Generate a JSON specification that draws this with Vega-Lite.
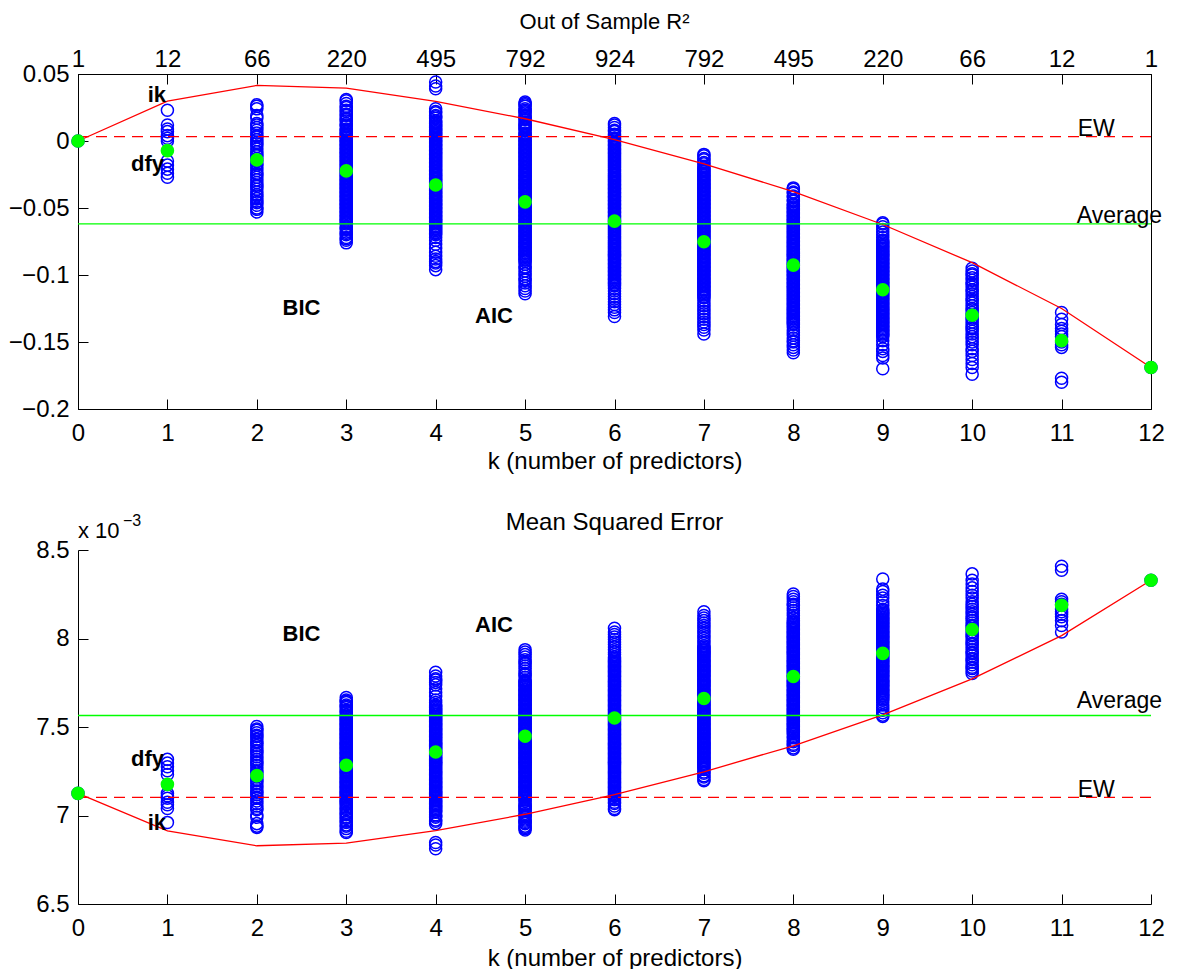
{
"$schema":"https://vega.github.io/schema/vega-lite/v6.json",
"background":"white",
"padding":{"left":7,"top":10,"right":0,"bottom":0},
"spacing":36,
"config":{
 "font":"Liberation Sans",
 "view":{"stroke":null},
 "axis":{"grid":false,"labelFont":"Liberation Sans","labelFontSize":24,"labelColor":"#000","titleFont":"Liberation Sans","titleFontSize":24,"titleFontWeight":"normal","titleColor":"#000","domainColor":"#000","domainWidth":1,"tickColor":"#000","tickWidth":1,"tickSize":-10,"labelFlush":false,"labelOverlap":false},
 "title":{"font":"Liberation Sans","fontWeight":"normal","color":"#000","anchor":"middle","baseline":"alphabetic","frame":"group"}
},
"datasets":{
"models":[
{"k":0,"r":0,"m":7.125},
{"k":1,"r":0.023,"m":6.961},{"k":1,"r":0.012,"m":7.040},{"k":1,"r":0.009,"m":7.061},{"k":1,"r":0.007,"m":7.075},{"k":1,"r":0.004,"m":7.097},{"k":1,"r":0.002,"m":7.111},{"k":1,"r":0,"m":7.125},{"k":1,"r":-0.015,"m":7.232},{"k":1,"r":-0.018,"m":7.253},{"k":1,"r":-0.021,"m":7.275},{"k":1,"r":-0.024,"m":7.296},{"k":1,"r":-0.027,"m":7.317},
{"k":2,"r":0.027,"m":6.933},{"k":2,"r":0.026,"m":6.940},{"k":2,"r":0.024,"m":6.954},{"k":2,"r":0.019,"m":6.990},{"k":2,"r":0.017,"m":7.004},{"k":2,"r":0.013,"m":7.032},{"k":2,"r":0.012,"m":7.040},{"k":2,"r":0.010,"m":7.054},{"k":2,"r":0.008,"m":7.068},{"k":2,"r":0.006,"m":7.082},{"k":2,"r":0.004,"m":7.097},{"k":2,"r":0.003,"m":7.104},{"k":2,"r":0.001,"m":7.118},{"k":2,"r":-0.001,"m":7.132},{"k":2,"r":-0.002,"m":7.139},{"k":2,"r":-0.004,"m":7.154},{"k":2,"r":-0.006,"m":7.168},{"k":2,"r":-0.008,"m":7.182},{"k":2,"r":-0.010,"m":7.196},{"k":2,"r":-0.011,"m":7.203},{"k":2,"r":-0.013,"m":7.218},{"k":2,"r":-0.015,"m":7.232},{"k":2,"r":-0.017,"m":7.246},{"k":2,"r":-0.018,"m":7.253},{"k":2,"r":-0.020,"m":7.268},{"k":2,"r":-0.022,"m":7.282},{"k":2,"r":-0.024,"m":7.296},{"k":2,"r":-0.025,"m":7.303},{"k":2,"r":-0.027,"m":7.317},{"k":2,"r":-0.029,"m":7.332},{"k":2,"r":-0.031,"m":7.346},{"k":2,"r":-0.033,"m":7.360},{"k":2,"r":-0.034,"m":7.367},{"k":2,"r":-0.036,"m":7.382},{"k":2,"r":-0.038,"m":7.396},{"k":2,"r":-0.040,"m":7.410},{"k":2,"r":-0.041,"m":7.417},{"k":2,"r":-0.043,"m":7.431},{"k":2,"r":-0.045,"m":7.446},{"k":2,"r":-0.046,"m":7.453},{"k":2,"r":-0.048,"m":7.467},{"k":2,"r":-0.050,"m":7.481},{"k":2,"r":-0.051,"m":7.488},{"k":2,"r":-0.053,"m":7.503},
{"k":3,"r":0.031,"m":6.904},{"k":3,"r":0.030,"m":6.911},{"k":3,"r":0.028,"m":6.926},{"k":3,"r":0.026,"m":6.940},{"k":3,"r":0.025,"m":6.947},{"k":3,"r":0.023,"m":6.961},{"k":3,"r":0.022,"m":6.968},{"k":3,"r":0.020,"m":6.983},{"k":3,"r":0.019,"m":6.990},{"k":3,"r":0.017,"m":7.004},{"k":3,"r":0.016,"m":7.011},{"k":3,"r":0.015,"m":7.018},{"k":3,"r":0.013,"m":7.032},{"k":3,"r":0.012,"m":7.040},{"k":3,"r":0.011,"m":7.047},{"k":3,"r":0.009,"m":7.061},{"k":3,"r":0.008,"m":7.068},
{"k":3,"r":0.007,"m":7.075},{"k":3,"r":0.006,"m":7.082},{"k":3,"r":0.005,"m":7.089},{"k":3,"r":0.004,"m":7.097},{"k":3,"r":0.003,"m":7.104},{"k":3,"r":0.002,"m":7.111},{"k":3,"r":0.001,"m":7.118},{"k":3,"r":0,"m":7.125},
{"k":3,"r":-0.001,"m":7.132},{"k":3,"r":-0.002,"m":7.139},{"k":3,"r":-0.003,"m":7.146},{"k":3,"r":-0.004,"m":7.154},{"k":3,"r":-0.005,"m":7.161},{"k":3,"r":-0.006,"m":7.168},{"k":3,"r":-0.007,"m":7.175},{"k":3,"r":-0.008,"m":7.182},{"k":3,"r":-0.009,"m":7.189},{"k":3,"r":-0.010,"m":7.196},
{"k":3,"r":-0.011,"m":7.203},{"k":3,"r":-0.012,"m":7.211},{"k":3,"r":-0.013,"m":7.218},{"k":3,"r":-0.014,"m":7.225},{"k":3,"r":-0.015,"m":7.232},{"k":3,"r":-0.016,"m":7.239},{"k":3,"r":-0.017,"m":7.246},{"k":3,"r":-0.018,"m":7.253},{"k":3,"r":-0.019,"m":7.260},{"k":3,"r":-0.020,"m":7.268},
{"k":3,"r":-0.021,"m":7.275},{"k":3,"r":-0.022,"m":7.282},{"k":3,"r":-0.023,"m":7.289},{"k":3,"r":-0.024,"m":7.296},{"k":3,"r":-0.025,"m":7.303},{"k":3,"r":-0.026,"m":7.310},{"k":3,"r":-0.027,"m":7.317},{"k":3,"r":-0.028,"m":7.325},{"k":3,"r":-0.029,"m":7.332},{"k":3,"r":-0.030,"m":7.339},
{"k":3,"r":-0.031,"m":7.346},{"k":3,"r":-0.032,"m":7.353},{"k":3,"r":-0.033,"m":7.360},{"k":3,"r":-0.034,"m":7.367},{"k":3,"r":-0.035,"m":7.374},{"k":3,"r":-0.036,"m":7.382},{"k":3,"r":-0.037,"m":7.389},{"k":3,"r":-0.038,"m":7.396},{"k":3,"r":-0.039,"m":7.403},{"k":3,"r":-0.040,"m":7.410},
{"k":3,"r":-0.041,"m":7.417},{"k":3,"r":-0.042,"m":7.424},{"k":3,"r":-0.043,"m":7.431},{"k":3,"r":-0.044,"m":7.439},{"k":3,"r":-0.045,"m":7.446},{"k":3,"r":-0.046,"m":7.453},{"k":3,"r":-0.047,"m":7.460},{"k":3,"r":-0.048,"m":7.467},{"k":3,"r":-0.049,"m":7.474},{"k":3,"r":-0.050,"m":7.481},
{"k":3,"r":-0.051,"m":7.488},{"k":3,"r":-0.052,"m":7.496},{"k":3,"r":-0.053,"m":7.503},{"k":3,"r":-0.054,"m":7.510},{"k":3,"r":-0.055,"m":7.517},{"k":3,"r":-0.056,"m":7.524},{"k":3,"r":-0.057,"m":7.531},{"k":3,"r":-0.058,"m":7.538},{"k":3,"r":-0.059,"m":7.545},{"k":3,"r":-0.060,"m":7.553},
{"k":3,"r":-0.061,"m":7.560},{"k":3,"r":-0.062,"m":7.567},{"k":3,"r":-0.064,"m":7.581},{"k":3,"r":-0.065,"m":7.588},{"k":3,"r":-0.066,"m":7.595},{"k":3,"r":-0.068,"m":7.610},{"k":3,"r":-0.069,"m":7.617},{"k":3,"r":-0.070,"m":7.624},{"k":3,"r":-0.072,"m":7.638},{"k":3,"r":-0.073,"m":7.645},{"k":3,"r":-0.074,"m":7.652},{"k":3,"r":-0.076,"m":7.667},
{"k":4,"r":0.044,"m":6.812},{"k":4,"r":0.041,"m":6.833},{"k":4,"r":0.039,"m":6.847},
{"k":4,"r":0.024,"m":6.954},{"k":4,"r":0.022,"m":6.968},{"k":4,"r":0.021,"m":6.975},{"k":4,"r":0.019,"m":6.990},{"k":4,"r":0.018,"m":6.997},{"k":4,"r":0.017,"m":7.004},{"k":4,"r":0.015,"m":7.018},{"k":4,"r":0.014,"m":7.025},{"k":4,"r":0.013,"m":7.032},{"k":4,"r":0.012,"m":7.040},
{"k":4,"r":0.011,"m":7.047},{"k":4,"r":0.010,"m":7.054},{"k":4,"r":0.009,"m":7.061},{"k":4,"r":0.008,"m":7.068},{"k":4,"r":0.007,"m":7.075},{"k":4,"r":0.006,"m":7.082},{"k":4,"r":0.005,"m":7.089},{"k":4,"r":0.004,"m":7.097},{"k":4,"r":0.003,"m":7.104},{"k":4,"r":0.002,"m":7.111},{"k":4,"r":0.001,"m":7.118},{"k":4,"r":0,"m":7.125},
{"k":4,"r":-0.001,"m":7.132},{"k":4,"r":-0.002,"m":7.139},{"k":4,"r":-0.003,"m":7.146},{"k":4,"r":-0.004,"m":7.154},{"k":4,"r":-0.005,"m":7.161},{"k":4,"r":-0.006,"m":7.168},{"k":4,"r":-0.007,"m":7.175},{"k":4,"r":-0.008,"m":7.182},{"k":4,"r":-0.009,"m":7.189},{"k":4,"r":-0.010,"m":7.196},
{"k":4,"r":-0.011,"m":7.203},{"k":4,"r":-0.012,"m":7.211},{"k":4,"r":-0.013,"m":7.218},{"k":4,"r":-0.014,"m":7.225},{"k":4,"r":-0.015,"m":7.232},{"k":4,"r":-0.016,"m":7.239},{"k":4,"r":-0.017,"m":7.246},{"k":4,"r":-0.018,"m":7.253},{"k":4,"r":-0.019,"m":7.260},{"k":4,"r":-0.020,"m":7.268},
{"k":4,"r":-0.021,"m":7.275},{"k":4,"r":-0.022,"m":7.282},{"k":4,"r":-0.023,"m":7.289},{"k":4,"r":-0.024,"m":7.296},{"k":4,"r":-0.025,"m":7.303},{"k":4,"r":-0.026,"m":7.310},{"k":4,"r":-0.027,"m":7.317},{"k":4,"r":-0.028,"m":7.325},{"k":4,"r":-0.029,"m":7.332},{"k":4,"r":-0.030,"m":7.339},
{"k":4,"r":-0.031,"m":7.346},{"k":4,"r":-0.032,"m":7.353},{"k":4,"r":-0.033,"m":7.360},{"k":4,"r":-0.034,"m":7.367},{"k":4,"r":-0.035,"m":7.374},{"k":4,"r":-0.036,"m":7.382},{"k":4,"r":-0.037,"m":7.389},{"k":4,"r":-0.038,"m":7.396},{"k":4,"r":-0.039,"m":7.403},{"k":4,"r":-0.040,"m":7.410},
{"k":4,"r":-0.041,"m":7.417},{"k":4,"r":-0.042,"m":7.424},{"k":4,"r":-0.043,"m":7.431},{"k":4,"r":-0.044,"m":7.439},{"k":4,"r":-0.045,"m":7.446},{"k":4,"r":-0.046,"m":7.453},{"k":4,"r":-0.047,"m":7.460},{"k":4,"r":-0.048,"m":7.467},{"k":4,"r":-0.049,"m":7.474},{"k":4,"r":-0.050,"m":7.481},
{"k":4,"r":-0.051,"m":7.488},{"k":4,"r":-0.052,"m":7.496},{"k":4,"r":-0.053,"m":7.503},{"k":4,"r":-0.054,"m":7.510},{"k":4,"r":-0.055,"m":7.517},{"k":4,"r":-0.056,"m":7.524},{"k":4,"r":-0.057,"m":7.531},{"k":4,"r":-0.058,"m":7.538},{"k":4,"r":-0.059,"m":7.545},{"k":4,"r":-0.060,"m":7.553},
{"k":4,"r":-0.061,"m":7.560},{"k":4,"r":-0.062,"m":7.567},{"k":4,"r":-0.063,"m":7.574},{"k":4,"r":-0.064,"m":7.581},{"k":4,"r":-0.065,"m":7.588},{"k":4,"r":-0.066,"m":7.595},{"k":4,"r":-0.067,"m":7.602},{"k":4,"r":-0.068,"m":7.610},{"k":4,"r":-0.069,"m":7.617},{"k":4,"r":-0.070,"m":7.624},
{"k":4,"r":-0.072,"m":7.638},{"k":4,"r":-0.074,"m":7.652},{"k":4,"r":-0.077,"m":7.674},{"k":4,"r":-0.080,"m":7.695},{"k":4,"r":-0.083,"m":7.716},{"k":4,"r":-0.086,"m":7.738},{"k":4,"r":-0.088,"m":7.752},{"k":4,"r":-0.090,"m":7.766},{"k":4,"r":-0.091,"m":7.773},{"k":4,"r":-0.093,"m":7.788},{"k":4,"r":-0.096,"m":7.809},
{"k":5,"r":0.029,"m":6.918},{"k":5,"r":0.028,"m":6.926},{"k":5,"r":0.027,"m":6.933},{"k":5,"r":0.026,"m":6.940},{"k":5,"r":0.024,"m":6.954},{"k":5,"r":0.023,"m":6.961},{"k":5,"r":0.022,"m":6.968},{"k":5,"r":0.021,"m":6.975},{"k":5,"r":0.019,"m":6.990},{"k":5,"r":0.018,"m":6.997},{"k":5,"r":0.017,"m":7.004},{"k":5,"r":0.016,"m":7.011},{"k":5,"r":0.014,"m":7.025},{"k":5,"r":0.013,"m":7.032},{"k":5,"r":0.012,"m":7.040},{"k":5,"r":0.011,"m":7.047},{"k":5,"r":0.010,"m":7.054},{"k":5,"r":0.009,"m":7.061},{"k":5,"r":0.008,"m":7.068},{"k":5,"r":0.006,"m":7.082},{"k":5,"r":0.005,"m":7.089},{"k":5,"r":0.004,"m":7.097},{"k":5,"r":0.003,"m":7.104},{"k":5,"r":0.002,"m":7.111},
{"k":5,"r":0.001,"m":7.118},{"k":5,"r":0,"m":7.125},
{"k":5,"r":-0.001,"m":7.132},{"k":5,"r":-0.002,"m":7.139},{"k":5,"r":-0.003,"m":7.146},{"k":5,"r":-0.004,"m":7.154},{"k":5,"r":-0.005,"m":7.161},{"k":5,"r":-0.006,"m":7.168},{"k":5,"r":-0.007,"m":7.175},{"k":5,"r":-0.008,"m":7.182},{"k":5,"r":-0.009,"m":7.189},{"k":5,"r":-0.010,"m":7.196},
{"k":5,"r":-0.011,"m":7.203},{"k":5,"r":-0.012,"m":7.211},{"k":5,"r":-0.013,"m":7.218},{"k":5,"r":-0.014,"m":7.225},{"k":5,"r":-0.015,"m":7.232},{"k":5,"r":-0.016,"m":7.239},{"k":5,"r":-0.017,"m":7.246},{"k":5,"r":-0.018,"m":7.253},{"k":5,"r":-0.019,"m":7.260},{"k":5,"r":-0.020,"m":7.268},
{"k":5,"r":-0.021,"m":7.275},{"k":5,"r":-0.022,"m":7.282},{"k":5,"r":-0.023,"m":7.289},{"k":5,"r":-0.024,"m":7.296},{"k":5,"r":-0.025,"m":7.303},{"k":5,"r":-0.026,"m":7.310},{"k":5,"r":-0.027,"m":7.317},{"k":5,"r":-0.028,"m":7.325},{"k":5,"r":-0.029,"m":7.332},{"k":5,"r":-0.030,"m":7.339},
{"k":5,"r":-0.031,"m":7.346},{"k":5,"r":-0.032,"m":7.353},{"k":5,"r":-0.033,"m":7.360},{"k":5,"r":-0.034,"m":7.367},{"k":5,"r":-0.035,"m":7.374},{"k":5,"r":-0.036,"m":7.382},{"k":5,"r":-0.037,"m":7.389},{"k":5,"r":-0.038,"m":7.396},{"k":5,"r":-0.039,"m":7.403},{"k":5,"r":-0.040,"m":7.410},
{"k":5,"r":-0.041,"m":7.417},{"k":5,"r":-0.042,"m":7.424},{"k":5,"r":-0.043,"m":7.431},{"k":5,"r":-0.044,"m":7.439},{"k":5,"r":-0.045,"m":7.446},{"k":5,"r":-0.046,"m":7.453},{"k":5,"r":-0.047,"m":7.460},{"k":5,"r":-0.048,"m":7.467},{"k":5,"r":-0.049,"m":7.474},{"k":5,"r":-0.050,"m":7.481},
{"k":5,"r":-0.051,"m":7.488},{"k":5,"r":-0.052,"m":7.496},{"k":5,"r":-0.053,"m":7.503},{"k":5,"r":-0.054,"m":7.510},{"k":5,"r":-0.055,"m":7.517},{"k":5,"r":-0.056,"m":7.524},{"k":5,"r":-0.057,"m":7.531},{"k":5,"r":-0.058,"m":7.538},{"k":5,"r":-0.059,"m":7.545},{"k":5,"r":-0.060,"m":7.553},
{"k":5,"r":-0.061,"m":7.560},{"k":5,"r":-0.062,"m":7.567},{"k":5,"r":-0.063,"m":7.574},{"k":5,"r":-0.064,"m":7.581},{"k":5,"r":-0.065,"m":7.588},{"k":5,"r":-0.066,"m":7.595},{"k":5,"r":-0.067,"m":7.602},{"k":5,"r":-0.068,"m":7.610},{"k":5,"r":-0.069,"m":7.617},{"k":5,"r":-0.070,"m":7.624},
{"k":5,"r":-0.071,"m":7.631},{"k":5,"r":-0.072,"m":7.638},{"k":5,"r":-0.073,"m":7.645},{"k":5,"r":-0.074,"m":7.652},{"k":5,"r":-0.075,"m":7.659},{"k":5,"r":-0.076,"m":7.667},{"k":5,"r":-0.077,"m":7.674},{"k":5,"r":-0.078,"m":7.681},{"k":5,"r":-0.079,"m":7.688},{"k":5,"r":-0.080,"m":7.695},
{"k":5,"r":-0.081,"m":7.702},{"k":5,"r":-0.082,"m":7.709},{"k":5,"r":-0.083,"m":7.716},{"k":5,"r":-0.084,"m":7.724},{"k":5,"r":-0.085,"m":7.731},{"k":5,"r":-0.086,"m":7.738},{"k":5,"r":-0.087,"m":7.745},{"k":5,"r":-0.088,"m":7.752},{"k":5,"r":-0.089,"m":7.759},{"k":5,"r":-0.090,"m":7.766},
{"k":5,"r":-0.092,"m":7.781},{"k":5,"r":-0.094,"m":7.795},{"k":5,"r":-0.095,"m":7.802},{"k":5,"r":-0.097,"m":7.816},{"k":5,"r":-0.099,"m":7.830},{"k":5,"r":-0.101,"m":7.845},{"k":5,"r":-0.103,"m":7.859},{"k":5,"r":-0.104,"m":7.866},{"k":5,"r":-0.106,"m":7.880},{"k":5,"r":-0.108,"m":7.895},{"k":5,"r":-0.110,"m":7.909},{"k":5,"r":-0.112,"m":7.923},{"k":5,"r":-0.114,"m":7.937},
{"k":6,"r":0.013,"m":7.032},{"k":6,"r":0.012,"m":7.040},{"k":6,"r":0.010,"m":7.054},{"k":6,"r":0.008,"m":7.068},{"k":6,"r":0.007,"m":7.075},{"k":6,"r":0.005,"m":7.089},{"k":6,"r":0.004,"m":7.097},{"k":6,"r":0.002,"m":7.111},{"k":6,"r":0.001,"m":7.118},{"k":6,"r":0,"m":7.125},{"k":6,"r":-0.001,"m":7.132},{"k":6,"r":-0.002,"m":7.139},
{"k":6,"r":-0.003,"m":7.146},{"k":6,"r":-0.004,"m":7.154},{"k":6,"r":-0.005,"m":7.161},{"k":6,"r":-0.006,"m":7.168},{"k":6,"r":-0.007,"m":7.175},{"k":6,"r":-0.008,"m":7.182},{"k":6,"r":-0.009,"m":7.189},{"k":6,"r":-0.010,"m":7.196},
{"k":6,"r":-0.011,"m":7.203},{"k":6,"r":-0.012,"m":7.211},{"k":6,"r":-0.013,"m":7.218},{"k":6,"r":-0.014,"m":7.225},{"k":6,"r":-0.015,"m":7.232},{"k":6,"r":-0.016,"m":7.239},{"k":6,"r":-0.017,"m":7.246},{"k":6,"r":-0.018,"m":7.253},{"k":6,"r":-0.019,"m":7.260},{"k":6,"r":-0.020,"m":7.268},
{"k":6,"r":-0.021,"m":7.275},{"k":6,"r":-0.022,"m":7.282},{"k":6,"r":-0.023,"m":7.289},{"k":6,"r":-0.024,"m":7.296},{"k":6,"r":-0.025,"m":7.303},{"k":6,"r":-0.026,"m":7.310},{"k":6,"r":-0.027,"m":7.317},{"k":6,"r":-0.028,"m":7.325},{"k":6,"r":-0.029,"m":7.332},{"k":6,"r":-0.030,"m":7.339},
{"k":6,"r":-0.031,"m":7.346},{"k":6,"r":-0.032,"m":7.353},{"k":6,"r":-0.033,"m":7.360},{"k":6,"r":-0.034,"m":7.367},{"k":6,"r":-0.035,"m":7.374},{"k":6,"r":-0.036,"m":7.382},{"k":6,"r":-0.037,"m":7.389},{"k":6,"r":-0.038,"m":7.396},{"k":6,"r":-0.039,"m":7.403},{"k":6,"r":-0.040,"m":7.410},
{"k":6,"r":-0.041,"m":7.417},{"k":6,"r":-0.042,"m":7.424},{"k":6,"r":-0.043,"m":7.431},{"k":6,"r":-0.044,"m":7.439},{"k":6,"r":-0.045,"m":7.446},{"k":6,"r":-0.046,"m":7.453},{"k":6,"r":-0.047,"m":7.460},{"k":6,"r":-0.048,"m":7.467},{"k":6,"r":-0.049,"m":7.474},{"k":6,"r":-0.050,"m":7.481},
{"k":6,"r":-0.051,"m":7.488},{"k":6,"r":-0.052,"m":7.496},{"k":6,"r":-0.053,"m":7.503},{"k":6,"r":-0.054,"m":7.510},{"k":6,"r":-0.055,"m":7.517},{"k":6,"r":-0.056,"m":7.524},{"k":6,"r":-0.057,"m":7.531},{"k":6,"r":-0.058,"m":7.538},{"k":6,"r":-0.059,"m":7.545},{"k":6,"r":-0.060,"m":7.553},
{"k":6,"r":-0.061,"m":7.560},{"k":6,"r":-0.062,"m":7.567},{"k":6,"r":-0.063,"m":7.574},{"k":6,"r":-0.064,"m":7.581},{"k":6,"r":-0.065,"m":7.588},{"k":6,"r":-0.066,"m":7.595},{"k":6,"r":-0.067,"m":7.602},{"k":6,"r":-0.068,"m":7.610},{"k":6,"r":-0.069,"m":7.617},{"k":6,"r":-0.070,"m":7.624},
{"k":6,"r":-0.071,"m":7.631},{"k":6,"r":-0.072,"m":7.638},{"k":6,"r":-0.073,"m":7.645},{"k":6,"r":-0.074,"m":7.652},{"k":6,"r":-0.075,"m":7.659},{"k":6,"r":-0.076,"m":7.667},{"k":6,"r":-0.077,"m":7.674},{"k":6,"r":-0.078,"m":7.681},{"k":6,"r":-0.079,"m":7.688},{"k":6,"r":-0.080,"m":7.695},
{"k":6,"r":-0.081,"m":7.702},{"k":6,"r":-0.082,"m":7.709},{"k":6,"r":-0.083,"m":7.716},{"k":6,"r":-0.084,"m":7.724},{"k":6,"r":-0.085,"m":7.731},{"k":6,"r":-0.086,"m":7.738},{"k":6,"r":-0.087,"m":7.745},{"k":6,"r":-0.088,"m":7.752},{"k":6,"r":-0.089,"m":7.759},{"k":6,"r":-0.090,"m":7.766},
{"k":6,"r":-0.091,"m":7.773},{"k":6,"r":-0.092,"m":7.781},{"k":6,"r":-0.093,"m":7.788},{"k":6,"r":-0.094,"m":7.795},{"k":6,"r":-0.095,"m":7.802},{"k":6,"r":-0.096,"m":7.809},{"k":6,"r":-0.097,"m":7.816},{"k":6,"r":-0.098,"m":7.823},{"k":6,"r":-0.099,"m":7.830},{"k":6,"r":-0.100,"m":7.838},
{"k":6,"r":-0.101,"m":7.845},{"k":6,"r":-0.102,"m":7.852},{"k":6,"r":-0.103,"m":7.859},{"k":6,"r":-0.104,"m":7.866},{"k":6,"r":-0.105,"m":7.873},{"k":6,"r":-0.106,"m":7.880},{"k":6,"r":-0.107,"m":7.887},
{"k":6,"r":-0.108,"m":7.895},{"k":6,"r":-0.110,"m":7.909},{"k":6,"r":-0.112,"m":7.923},{"k":6,"r":-0.114,"m":7.937},{"k":6,"r":-0.116,"m":7.952},{"k":6,"r":-0.118,"m":7.966},{"k":6,"r":-0.120,"m":7.980},{"k":6,"r":-0.122,"m":7.994},{"k":6,"r":-0.124,"m":8.009},{"k":6,"r":-0.126,"m":8.023},{"k":6,"r":-0.128,"m":8.037},{"k":6,"r":-0.131,"m":8.058},
{"k":7,"r":-0.010,"m":7.196},{"k":7,"r":-0.011,"m":7.203},{"k":7,"r":-0.013,"m":7.218},{"k":7,"r":-0.014,"m":7.225},{"k":7,"r":-0.016,"m":7.239},{"k":7,"r":-0.017,"m":7.246},{"k":7,"r":-0.019,"m":7.260},{"k":7,"r":-0.020,"m":7.268},{"k":7,"r":-0.021,"m":7.275},
{"k":7,"r":-0.022,"m":7.282},{"k":7,"r":-0.023,"m":7.289},{"k":7,"r":-0.024,"m":7.296},{"k":7,"r":-0.025,"m":7.303},{"k":7,"r":-0.026,"m":7.310},{"k":7,"r":-0.027,"m":7.317},{"k":7,"r":-0.028,"m":7.325},{"k":7,"r":-0.029,"m":7.332},{"k":7,"r":-0.030,"m":7.339},
{"k":7,"r":-0.031,"m":7.346},{"k":7,"r":-0.032,"m":7.353},{"k":7,"r":-0.033,"m":7.360},{"k":7,"r":-0.034,"m":7.367},{"k":7,"r":-0.035,"m":7.374},{"k":7,"r":-0.036,"m":7.382},{"k":7,"r":-0.037,"m":7.389},{"k":7,"r":-0.038,"m":7.396},{"k":7,"r":-0.039,"m":7.403},{"k":7,"r":-0.040,"m":7.410},
{"k":7,"r":-0.041,"m":7.417},{"k":7,"r":-0.042,"m":7.424},{"k":7,"r":-0.043,"m":7.431},{"k":7,"r":-0.044,"m":7.439},{"k":7,"r":-0.045,"m":7.446},{"k":7,"r":-0.046,"m":7.453},{"k":7,"r":-0.047,"m":7.460},{"k":7,"r":-0.048,"m":7.467},{"k":7,"r":-0.049,"m":7.474},{"k":7,"r":-0.050,"m":7.481},
{"k":7,"r":-0.051,"m":7.488},{"k":7,"r":-0.052,"m":7.496},{"k":7,"r":-0.053,"m":7.503},{"k":7,"r":-0.054,"m":7.510},{"k":7,"r":-0.055,"m":7.517},{"k":7,"r":-0.056,"m":7.524},{"k":7,"r":-0.057,"m":7.531},{"k":7,"r":-0.058,"m":7.538},{"k":7,"r":-0.059,"m":7.545},{"k":7,"r":-0.060,"m":7.553},
{"k":7,"r":-0.061,"m":7.560},{"k":7,"r":-0.062,"m":7.567},{"k":7,"r":-0.063,"m":7.574},{"k":7,"r":-0.064,"m":7.581},{"k":7,"r":-0.065,"m":7.588},{"k":7,"r":-0.066,"m":7.595},{"k":7,"r":-0.067,"m":7.602},{"k":7,"r":-0.068,"m":7.610},{"k":7,"r":-0.069,"m":7.617},{"k":7,"r":-0.070,"m":7.624},
{"k":7,"r":-0.071,"m":7.631},{"k":7,"r":-0.072,"m":7.638},{"k":7,"r":-0.073,"m":7.645},{"k":7,"r":-0.074,"m":7.652},{"k":7,"r":-0.075,"m":7.659},{"k":7,"r":-0.076,"m":7.667},{"k":7,"r":-0.077,"m":7.674},{"k":7,"r":-0.078,"m":7.681},{"k":7,"r":-0.079,"m":7.688},{"k":7,"r":-0.080,"m":7.695},
{"k":7,"r":-0.081,"m":7.702},{"k":7,"r":-0.082,"m":7.709},{"k":7,"r":-0.083,"m":7.716},{"k":7,"r":-0.084,"m":7.724},{"k":7,"r":-0.085,"m":7.731},{"k":7,"r":-0.086,"m":7.738},{"k":7,"r":-0.087,"m":7.745},{"k":7,"r":-0.088,"m":7.752},{"k":7,"r":-0.089,"m":7.759},{"k":7,"r":-0.090,"m":7.766},
{"k":7,"r":-0.091,"m":7.773},{"k":7,"r":-0.092,"m":7.781},{"k":7,"r":-0.093,"m":7.788},{"k":7,"r":-0.094,"m":7.795},{"k":7,"r":-0.095,"m":7.802},{"k":7,"r":-0.096,"m":7.809},{"k":7,"r":-0.097,"m":7.816},{"k":7,"r":-0.098,"m":7.823},{"k":7,"r":-0.099,"m":7.830},{"k":7,"r":-0.100,"m":7.838},
{"k":7,"r":-0.101,"m":7.845},{"k":7,"r":-0.102,"m":7.852},{"k":7,"r":-0.103,"m":7.859},{"k":7,"r":-0.104,"m":7.866},{"k":7,"r":-0.105,"m":7.873},{"k":7,"r":-0.106,"m":7.880},{"k":7,"r":-0.107,"m":7.887},{"k":7,"r":-0.108,"m":7.895},{"k":7,"r":-0.109,"m":7.902},{"k":7,"r":-0.110,"m":7.909},
{"k":7,"r":-0.111,"m":7.916},{"k":7,"r":-0.112,"m":7.923},{"k":7,"r":-0.113,"m":7.930},{"k":7,"r":-0.114,"m":7.937},{"k":7,"r":-0.115,"m":7.944},{"k":7,"r":-0.116,"m":7.952},{"k":7,"r":-0.117,"m":7.959},
{"k":7,"r":-0.119,"m":7.973},{"k":7,"r":-0.121,"m":7.987},{"k":7,"r":-0.123,"m":8.001},{"k":7,"r":-0.125,"m":8.016},{"k":7,"r":-0.127,"m":8.030},{"k":7,"r":-0.129,"m":8.044},{"k":7,"r":-0.131,"m":8.058},{"k":7,"r":-0.133,"m":8.073},{"k":7,"r":-0.135,"m":8.087},{"k":7,"r":-0.137,"m":8.101},{"k":7,"r":-0.139,"m":8.115},{"k":7,"r":-0.141,"m":8.130},{"k":7,"r":-0.144,"m":8.151},
{"k":8,"r":-0.035,"m":7.374},{"k":8,"r":-0.036,"m":7.382},{"k":8,"r":-0.038,"m":7.396},{"k":8,"r":-0.039,"m":7.403},{"k":8,"r":-0.041,"m":7.417},{"k":8,"r":-0.042,"m":7.424},{"k":8,"r":-0.044,"m":7.439},{"k":8,"r":-0.045,"m":7.446},{"k":8,"r":-0.047,"m":7.460},
{"k":8,"r":-0.048,"m":7.467},{"k":8,"r":-0.049,"m":7.474},{"k":8,"r":-0.050,"m":7.481},
{"k":8,"r":-0.051,"m":7.488},{"k":8,"r":-0.052,"m":7.496},{"k":8,"r":-0.053,"m":7.503},{"k":8,"r":-0.054,"m":7.510},{"k":8,"r":-0.055,"m":7.517},{"k":8,"r":-0.056,"m":7.524},{"k":8,"r":-0.057,"m":7.531},{"k":8,"r":-0.058,"m":7.538},{"k":8,"r":-0.059,"m":7.545},{"k":8,"r":-0.060,"m":7.553},
{"k":8,"r":-0.061,"m":7.560},{"k":8,"r":-0.062,"m":7.567},{"k":8,"r":-0.063,"m":7.574},{"k":8,"r":-0.064,"m":7.581},{"k":8,"r":-0.065,"m":7.588},{"k":8,"r":-0.066,"m":7.595},{"k":8,"r":-0.067,"m":7.602},{"k":8,"r":-0.068,"m":7.610},{"k":8,"r":-0.069,"m":7.617},{"k":8,"r":-0.070,"m":7.624},
{"k":8,"r":-0.071,"m":7.631},{"k":8,"r":-0.072,"m":7.638},{"k":8,"r":-0.073,"m":7.645},{"k":8,"r":-0.074,"m":7.652},{"k":8,"r":-0.075,"m":7.659},{"k":8,"r":-0.076,"m":7.667},{"k":8,"r":-0.077,"m":7.674},{"k":8,"r":-0.078,"m":7.681},{"k":8,"r":-0.079,"m":7.688},{"k":8,"r":-0.080,"m":7.695},
{"k":8,"r":-0.081,"m":7.702},{"k":8,"r":-0.082,"m":7.709},{"k":8,"r":-0.083,"m":7.716},{"k":8,"r":-0.084,"m":7.724},{"k":8,"r":-0.085,"m":7.731},{"k":8,"r":-0.086,"m":7.738},{"k":8,"r":-0.087,"m":7.745},{"k":8,"r":-0.088,"m":7.752},{"k":8,"r":-0.089,"m":7.759},{"k":8,"r":-0.090,"m":7.766},
{"k":8,"r":-0.091,"m":7.773},{"k":8,"r":-0.092,"m":7.781},{"k":8,"r":-0.093,"m":7.788},{"k":8,"r":-0.094,"m":7.795},{"k":8,"r":-0.095,"m":7.802},{"k":8,"r":-0.096,"m":7.809},{"k":8,"r":-0.097,"m":7.816},{"k":8,"r":-0.098,"m":7.823},{"k":8,"r":-0.099,"m":7.830},{"k":8,"r":-0.100,"m":7.838},
{"k":8,"r":-0.101,"m":7.845},{"k":8,"r":-0.102,"m":7.852},{"k":8,"r":-0.103,"m":7.859},{"k":8,"r":-0.104,"m":7.866},{"k":8,"r":-0.105,"m":7.873},{"k":8,"r":-0.106,"m":7.880},{"k":8,"r":-0.107,"m":7.887},{"k":8,"r":-0.108,"m":7.895},{"k":8,"r":-0.109,"m":7.902},{"k":8,"r":-0.110,"m":7.909},
{"k":8,"r":-0.111,"m":7.916},{"k":8,"r":-0.112,"m":7.923},{"k":8,"r":-0.113,"m":7.930},{"k":8,"r":-0.114,"m":7.937},{"k":8,"r":-0.115,"m":7.944},{"k":8,"r":-0.116,"m":7.952},{"k":8,"r":-0.117,"m":7.959},{"k":8,"r":-0.118,"m":7.966},{"k":8,"r":-0.119,"m":7.973},{"k":8,"r":-0.120,"m":7.980},
{"k":8,"r":-0.121,"m":7.987},{"k":8,"r":-0.122,"m":7.994},{"k":8,"r":-0.123,"m":8.001},{"k":8,"r":-0.124,"m":8.009},{"k":8,"r":-0.125,"m":8.016},{"k":8,"r":-0.126,"m":8.023},{"k":8,"r":-0.127,"m":8.030},{"k":8,"r":-0.128,"m":8.037},{"k":8,"r":-0.129,"m":8.044},{"k":8,"r":-0.130,"m":8.051},
{"k":8,"r":-0.131,"m":8.058},{"k":8,"r":-0.132,"m":8.066},{"k":8,"r":-0.133,"m":8.073},{"k":8,"r":-0.134,"m":8.080},{"k":8,"r":-0.135,"m":8.087},{"k":8,"r":-0.136,"m":8.094},{"k":8,"r":-0.137,"m":8.101},
{"k":8,"r":-0.139,"m":8.115},{"k":8,"r":-0.141,"m":8.130},{"k":8,"r":-0.143,"m":8.144},{"k":8,"r":-0.145,"m":8.158},{"k":8,"r":-0.147,"m":8.172},{"k":8,"r":-0.149,"m":8.187},{"k":8,"r":-0.150,"m":8.194},{"k":8,"r":-0.152,"m":8.208},{"k":8,"r":-0.154,"m":8.222},{"k":8,"r":-0.156,"m":8.237},{"k":8,"r":-0.158,"m":8.251},
{"k":9,"r":-0.061,"m":7.560},{"k":9,"r":-0.062,"m":7.567},{"k":9,"r":-0.064,"m":7.581},{"k":9,"r":-0.066,"m":7.595},{"k":9,"r":-0.068,"m":7.610},{"k":9,"r":-0.070,"m":7.624},{"k":9,"r":-0.072,"m":7.638},{"k":9,"r":-0.074,"m":7.652},
{"k":9,"r":-0.075,"m":7.659},{"k":9,"r":-0.076,"m":7.667},{"k":9,"r":-0.077,"m":7.674},{"k":9,"r":-0.078,"m":7.681},{"k":9,"r":-0.079,"m":7.688},{"k":9,"r":-0.080,"m":7.695},
{"k":9,"r":-0.081,"m":7.702},{"k":9,"r":-0.082,"m":7.709},{"k":9,"r":-0.083,"m":7.716},{"k":9,"r":-0.084,"m":7.724},{"k":9,"r":-0.085,"m":7.731},{"k":9,"r":-0.086,"m":7.738},{"k":9,"r":-0.087,"m":7.745},{"k":9,"r":-0.088,"m":7.752},{"k":9,"r":-0.089,"m":7.759},{"k":9,"r":-0.090,"m":7.766},
{"k":9,"r":-0.091,"m":7.773},{"k":9,"r":-0.092,"m":7.781},{"k":9,"r":-0.093,"m":7.788},{"k":9,"r":-0.094,"m":7.795},{"k":9,"r":-0.095,"m":7.802},{"k":9,"r":-0.096,"m":7.809},{"k":9,"r":-0.097,"m":7.816},{"k":9,"r":-0.098,"m":7.823},{"k":9,"r":-0.099,"m":7.830},{"k":9,"r":-0.100,"m":7.838},
{"k":9,"r":-0.101,"m":7.845},{"k":9,"r":-0.102,"m":7.852},{"k":9,"r":-0.103,"m":7.859},{"k":9,"r":-0.104,"m":7.866},{"k":9,"r":-0.105,"m":7.873},{"k":9,"r":-0.106,"m":7.880},{"k":9,"r":-0.107,"m":7.887},{"k":9,"r":-0.108,"m":7.895},{"k":9,"r":-0.109,"m":7.902},{"k":9,"r":-0.110,"m":7.909},
{"k":9,"r":-0.111,"m":7.916},{"k":9,"r":-0.112,"m":7.923},{"k":9,"r":-0.113,"m":7.930},{"k":9,"r":-0.114,"m":7.937},{"k":9,"r":-0.115,"m":7.944},{"k":9,"r":-0.116,"m":7.952},{"k":9,"r":-0.117,"m":7.959},{"k":9,"r":-0.118,"m":7.966},{"k":9,"r":-0.119,"m":7.973},{"k":9,"r":-0.120,"m":7.980},
{"k":9,"r":-0.121,"m":7.987},{"k":9,"r":-0.122,"m":7.994},{"k":9,"r":-0.123,"m":8.001},{"k":9,"r":-0.124,"m":8.009},{"k":9,"r":-0.125,"m":8.016},{"k":9,"r":-0.126,"m":8.023},{"k":9,"r":-0.127,"m":8.030},{"k":9,"r":-0.128,"m":8.037},{"k":9,"r":-0.129,"m":8.044},{"k":9,"r":-0.130,"m":8.051},
{"k":9,"r":-0.131,"m":8.058},{"k":9,"r":-0.132,"m":8.066},{"k":9,"r":-0.133,"m":8.073},{"k":9,"r":-0.134,"m":8.080},{"k":9,"r":-0.135,"m":8.087},{"k":9,"r":-0.136,"m":8.094},{"k":9,"r":-0.137,"m":8.101},{"k":9,"r":-0.138,"m":8.108},{"k":9,"r":-0.139,"m":8.115},{"k":9,"r":-0.140,"m":8.123},
{"k":9,"r":-0.141,"m":8.130},{"k":9,"r":-0.142,"m":8.137},{"k":9,"r":-0.143,"m":8.144},{"k":9,"r":-0.144,"m":8.151},{"k":9,"r":-0.145,"m":8.158},
{"k":9,"r":-0.146,"m":8.165},{"k":9,"r":-0.149,"m":8.187},{"k":9,"r":-0.152,"m":8.208},{"k":9,"r":-0.155,"m":8.229},{"k":9,"r":-0.157,"m":8.244},{"k":9,"r":-0.160,"m":8.265},{"k":9,"r":-0.162,"m":8.279},{"k":9,"r":-0.170,"m":8.336},
{"k":10,"r":-0.095,"m":7.802},{"k":10,"r":-0.097,"m":7.816},{"k":10,"r":-0.099,"m":7.830},{"k":10,"r":-0.100,"m":7.838},{"k":10,"r":-0.102,"m":7.852},{"k":10,"r":-0.104,"m":7.866},{"k":10,"r":-0.106,"m":7.880},{"k":10,"r":-0.107,"m":7.887},{"k":10,"r":-0.109,"m":7.902},{"k":10,"r":-0.111,"m":7.916},{"k":10,"r":-0.112,"m":7.923},{"k":10,"r":-0.114,"m":7.937},{"k":10,"r":-0.116,"m":7.952},{"k":10,"r":-0.118,"m":7.966},{"k":10,"r":-0.119,"m":7.973},{"k":10,"r":-0.121,"m":7.987},{"k":10,"r":-0.123,"m":8.001},{"k":10,"r":-0.125,"m":8.016},{"k":10,"r":-0.126,"m":8.023},{"k":10,"r":-0.128,"m":8.037},
{"k":10,"r":-0.130,"m":8.051},{"k":10,"r":-0.132,"m":8.066},{"k":10,"r":-0.133,"m":8.073},{"k":10,"r":-0.135,"m":8.087},{"k":10,"r":-0.137,"m":8.101},{"k":10,"r":-0.139,"m":8.115},{"k":10,"r":-0.140,"m":8.123},{"k":10,"r":-0.142,"m":8.137},{"k":10,"r":-0.144,"m":8.151},{"k":10,"r":-0.146,"m":8.165},{"k":10,"r":-0.148,"m":8.180},{"k":10,"r":-0.150,"m":8.194},{"k":10,"r":-0.152,"m":8.208},{"k":10,"r":-0.155,"m":8.229},{"k":10,"r":-0.157,"m":8.244},{"k":10,"r":-0.160,"m":8.265},{"k":10,"r":-0.163,"m":8.286},{"k":10,"r":-0.166,"m":8.308},{"k":10,"r":-0.169,"m":8.329},{"k":10,"r":-0.174,"m":8.365},
{"k":11,"r":-0.128,"m":8.037},{"k":11,"r":-0.133,"m":8.073},{"k":11,"r":-0.137,"m":8.101},{"k":11,"r":-0.140,"m":8.123},{"k":11,"r":-0.142,"m":8.137},{"k":11,"r":-0.144,"m":8.151},{"k":11,"r":-0.146,"m":8.165},{"k":11,"r":-0.150,"m":8.194},{"k":11,"r":-0.152,"m":8.208},{"k":11,"r":-0.154,"m":8.222},{"k":11,"r":-0.177,"m":8.386},{"k":11,"r":-0.180,"m":8.408},
{"k":12,"r":-0.169,"m":8.329}
],
"path":[
{"k":0,"r":0,"m":7.125},{"k":1,"r":0.0297,"m":6.913},{"k":2,"r":0.0415,"m":6.829},{"k":3,"r":0.0395,"m":6.844},{"k":4,"r":0.0296,"m":6.914},{"k":5,"r":0.0166,"m":7.007},{"k":6,"r":0.001,"m":7.118},{"k":7,"r":-0.0171,"m":7.247},{"k":8,"r":-0.0377,"m":7.394},{"k":9,"r":-0.0623,"m":7.569},{"k":10,"r":-0.0908,"m":7.772},{"k":11,"r":-0.125,"m":8.016},{"k":12,"r":-0.169,"m":8.329}
],
"means":[
{"k":0,"r":0,"m":7.125},{"k":1,"r":-0.0072,"m":7.176},{"k":2,"r":-0.0141,"m":7.225},{"k":3,"r":-0.0223,"m":7.284},{"k":4,"r":-0.0328,"m":7.359},{"k":5,"r":-0.0454,"m":7.448},{"k":6,"r":-0.0598,"m":7.551},{"k":7,"r":-0.0752,"m":7.661},{"k":8,"r":-0.0926,"m":7.785},{"k":9,"r":-0.111,"m":7.916},{"k":10,"r":-0.130,"m":8.051},{"k":11,"r":-0.149,"m":8.187},{"k":12,"r":-0.169,"m":8.329}
],
"bench":[
{"name":"EW","r":0.0032,"m":7.102},{"name":"Average","r":-0.0618,"m":7.565}
],
"notes":[
{"label":"ik","kind":"model","k":0.984,"r":0.0343,"m":6.955},
{"label":"dfy","kind":"model","k":0.962,"r":-0.0171,"m":7.319},
{"label":"BIC","kind":"model","k":2.712,"r":-0.1243,"m":8.028},
{"label":"AIC","kind":"model","k":4.865,"r":-0.1307,"m":8.076},
{"label":"EW","kind":"bench","k":11.18,"r":0.0086,"m":7.144},
{"label":"Average","kind":"bench","k":11.17,"r":-0.0558,"m":7.647},
{"label":"x 10","kind":"scale","k":0,"m":8.607},
{"label":"−3","kind":"exponent","k":0.503,"m":8.664}
]
},
"vconcat":[
{
 "width":1073,"height":335,
 "title":{"text":"Out of Sample R²","fontSize":22,"offset":13,"dx":-10},
 "view":{"stroke":"#000","strokeWidth":1},
 "resolve":{"axis":{"x":"independent"}},
 "layer":[
  {"data":{"name":"models"},
   "mark":{"type":"point","shape":"circle","filled":false,"color":"#0000ff","strokeWidth":1.5,"size":145,"opacity":1,"clip":false},
   "encoding":{
    "x":{"field":"k","type":"quantitative","scale":{"domain":[0,12],"nice":false,"zero":false},
         "axis":{"orient":"bottom","values":[0,1,2,3,4,5,6,7,8,9,10,11,12],"format":"d","labelPadding":22,"title":"k (number of predictors)","titlePadding":4}},
    "y":{"field":"r","type":"quantitative","scale":{"domain":[-0.2,0.05],"nice":false,"zero":false},
         "axis":{"values":[-0.2,-0.15,-0.1,-0.05,0,0.05],"format":"~g","labelPadding":19,"title":null}}}},
  {"data":{"name":"path"},
   "mark":{"type":"line","color":"#ff0000","strokeWidth":1.3,"clip":false},
   "encoding":{
    "x":{"field":"k","type":"quantitative",
         "axis":{"orient":"top","values":[0,1,2,3,4,5,6,7,8,9,10,11,12],"labelExpr":"['1','12','66','220','495','792','924','792','495','220','66','12','1'][datum.value]","labelPadding":18,"labelBaseline":"alphabetic","title":null}},
    "y":{"field":"r","type":"quantitative"}}},
  {"data":{"name":"bench"},"transform":[{"filter":"datum.name === 'EW'"}],
   "mark":{"type":"rule","color":"#ff0000","strokeWidth":1.3,"strokeDash":[11,7]},
   "encoding":{"y":{"field":"r","type":"quantitative"}}},
  {"data":{"name":"bench"},"transform":[{"filter":"datum.name === 'Average'"}],
   "mark":{"type":"rule","color":"#00ff00","strokeWidth":1.3},
   "encoding":{"y":{"field":"r","type":"quantitative"}}},
  {"data":{"name":"means"},
   "mark":{"type":"circle","color":"#00ff00","size":185,"opacity":1,"clip":false},
   "encoding":{"x":{"field":"k","type":"quantitative","axis":null},"y":{"field":"r","type":"quantitative"}}},
  {"data":{"name":"notes"},"transform":[{"filter":"datum.kind === 'model'"}],
   "mark":{"type":"text","align":"right","baseline":"middle","font":"Liberation Sans","fontSize":22,"fontWeight":"bold","color":"#000","clip":false},
   "encoding":{"x":{"field":"k","type":"quantitative","axis":null},"y":{"field":"r","type":"quantitative"},"text":{"field":"label"}}},
  {"data":{"name":"notes"},"transform":[{"filter":"datum.kind === 'bench'"}],
   "mark":{"type":"text","align":"left","baseline":"middle","font":"Liberation Sans","fontSize":23,"color":"#000","clip":false},
   "encoding":{"x":{"field":"k","type":"quantitative","axis":null},"y":{"field":"r","type":"quantitative"},"text":{"field":"label"}}}
 ]
},
{
 "width":1073,"height":354,
 "title":{"text":"Mean Squared Error","fontSize":24,"offset":-22},
 "layer":[
  {"data":{"name":"models"},
   "mark":{"type":"point","shape":"circle","filled":false,"color":"#0000ff","strokeWidth":1.5,"size":145,"opacity":1,"clip":false},
   "encoding":{
    "x":{"field":"k","type":"quantitative","scale":{"domain":[0,12],"nice":false,"zero":false},
         "axis":{"orient":"bottom","values":[0,1,2,3,4,5,6,7,8,9,10,11,12],"format":"d","labelPadding":22,"title":"k (number of predictors)","titlePadding":6}},
    "y":{"field":"m","type":"quantitative","scale":{"domain":[6.5,8.5],"nice":false,"zero":false},
         "axis":{"values":[6.5,7,7.5,8,8.5],"format":"~g","labelPadding":19,"title":null}}}},
  {"data":{"name":"path"},
   "mark":{"type":"line","color":"#ff0000","strokeWidth":1.3,"clip":false},
   "encoding":{"x":{"field":"k","type":"quantitative"},"y":{"field":"m","type":"quantitative"}}},
  {"data":{"name":"bench"},"transform":[{"filter":"datum.name === 'EW'"}],
   "mark":{"type":"rule","color":"#ff0000","strokeWidth":1.3,"strokeDash":[11,7]},
   "encoding":{"y":{"field":"m","type":"quantitative"}}},
  {"data":{"name":"bench"},"transform":[{"filter":"datum.name === 'Average'"}],
   "mark":{"type":"rule","color":"#00ff00","strokeWidth":1.3},
   "encoding":{"y":{"field":"m","type":"quantitative"}}},
  {"data":{"name":"means"},
   "mark":{"type":"circle","color":"#00ff00","size":185,"opacity":1,"clip":false},
   "encoding":{"x":{"field":"k","type":"quantitative"},"y":{"field":"m","type":"quantitative"}}},
  {"data":{"name":"notes"},"transform":[{"filter":"datum.kind === 'model'"}],
   "mark":{"type":"text","align":"right","baseline":"middle","font":"Liberation Sans","fontSize":22,"fontWeight":"bold","color":"#000","clip":false},
   "encoding":{"x":{"field":"k","type":"quantitative"},"y":{"field":"m","type":"quantitative"},"text":{"field":"label"}}},
  {"data":{"name":"notes"},"transform":[{"filter":"datum.kind === 'bench'"}],
   "mark":{"type":"text","align":"left","baseline":"middle","font":"Liberation Sans","fontSize":23,"color":"#000","clip":false},
   "encoding":{"x":{"field":"k","type":"quantitative"},"y":{"field":"m","type":"quantitative"},"text":{"field":"label"}}},
  {"data":{"name":"notes"},"transform":[{"filter":"datum.kind === 'scale'"}],
   "mark":{"type":"text","align":"left","baseline":"middle","font":"Liberation Sans","fontSize":22,"color":"#000","clip":false},
   "encoding":{"x":{"field":"k","type":"quantitative"},"y":{"field":"m","type":"quantitative"},"text":{"field":"label"}}},
  {"data":{"name":"notes"},"transform":[{"filter":"datum.kind === 'exponent'"}],
   "mark":{"type":"text","align":"left","baseline":"middle","font":"Liberation Sans","fontSize":16,"color":"#000","clip":false},
   "encoding":{"x":{"field":"k","type":"quantitative"},"y":{"field":"m","type":"quantitative"},"text":{"field":"label"}}}
 ]
}
]
}
